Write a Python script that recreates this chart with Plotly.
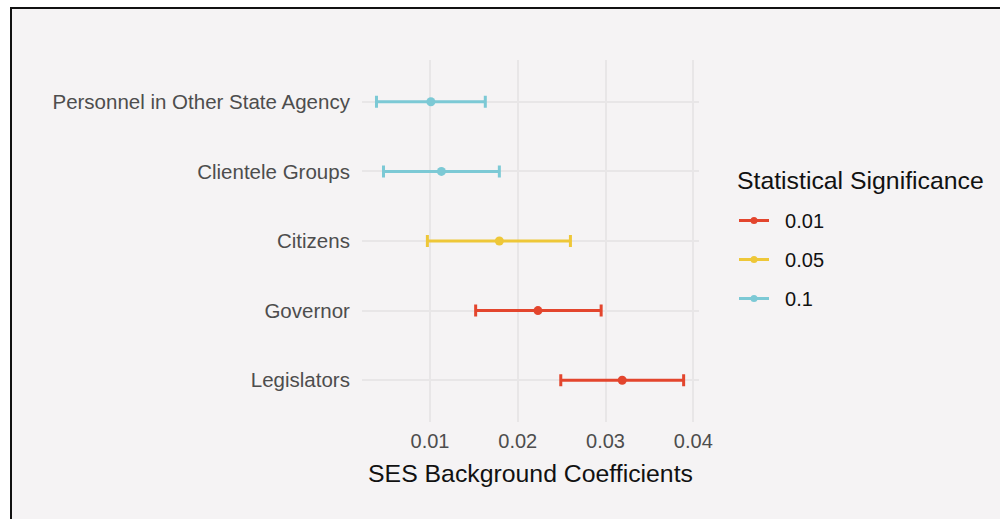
import plotly.graph_objects as go

# ---- data ----
categories = ["Personnel in Other State Agency", "Clientele Groups", "Citizens", "Governor", "Legislators"]
coefficients = [0.0101, 0.0113, 0.0179, 0.0223, 0.0319]
ci_lower = [0.0039, 0.0047, 0.0097, 0.0152, 0.0249]
ci_upper = [0.0163, 0.0179, 0.0260, 0.0295, 0.0389]
significance = ["0.1", "0.1", "0.05", "0.01", "0.01"]
sig_levels = ["0.01", "0.05", "0.1"]
sig_colors = {"0.01": "#E3452D", "0.05": "#EEC738", "0.1": "#7CC9D5"}
x_ticks = [0.01, 0.02, 0.03, 0.04]
legend_title = "Statistical Significance"
x_title = "SES Background Coefficients"

# ---- layout geometry (pixels) ----
W, H = 1000, 519
L, R, T, B = 362, 301, 60, 97
pw, ph = W - L - R, H - T - B

def px_x(p):
    return (p - L) / pw

def px_y(p):
    return 1 - (p - T) / ph

FONT = "Liberation Sans, Arial, sans-serif"
NBSP = "\u00a0"

fig = go.Figure()

for lvl in sig_levels:
    idx = [i for i, s in enumerate(significance) if s == lvl]
    xs = [coefficients[i] for i in idx]
    ys = [categories[i] for i in idx]
    plus = [ci_upper[i] - coefficients[i] for i in idx]
    minus = [coefficients[i] - ci_lower[i] for i in idx]
    col = sig_colors[lvl]
    fig.add_trace(go.Scatter(
        x=xs, y=ys, mode="markers",
        marker=dict(color=col, size=9),
        error_x=dict(type="data", symmetric=False, array=plus, arrayminus=minus,
                     color=col, thickness=3, width=6),
        showlegend=False, hoverinfo="x+y",
    ))
    # legend entry
    fig.add_trace(go.Scatter(
        x=[None], y=[None], mode="lines+markers", name=NBSP * 2 + lvl,
        line=dict(color=col, width=3), marker=dict(color=col, size=7),
        legendgroup=lvl, showlegend=True,
    ))

# background panel with black top/left border
fig.add_shape(type="rect", xref="paper", yref="paper",
              x0=px_x(11), x1=px_x(1020), y0=px_y(540), y1=px_y(8),
              fillcolor="#F5F3F4", line=dict(color="#111111", width=2), layer="below")

# legend title
fig.add_annotation(text=legend_title, xref="paper", yref="paper",
                   x=px_x(735), y=px_y(180), xanchor="left", yanchor="middle",
                   showarrow=False, font=dict(size=24.8, color="#111111", family=FONT))

fig.update_layout(
    width=W, height=H,
    margin=dict(l=L, r=R, t=T, b=B, pad=0),
    paper_bgcolor="white",
    plot_bgcolor="rgba(0,0,0,0)",
    font=dict(family=FONT, color="#4D4D4D", size=20),
    xaxis=dict(
        range=[0.00225, 0.04065],
        tickvals=x_ticks,
        ticktext=[f"{v:.2f}" for v in x_ticks],
        showgrid=True, gridcolor="#E8E6E7", gridwidth=1.5,
        zeroline=False, showline=False,
        ticks="outside", ticklen=1, tickcolor="rgba(0,0,0,0)",
        tickfont=dict(size=20, color="#4D4D4D"),
        title=dict(text=x_title, font=dict(size=24.8, color="#111111"), standoff=13),
    ),
    yaxis=dict(
        type="category",
        categoryorder="array",
        categoryarray=categories[::-1],
        range=[-0.6, 4.6],
        showgrid=True, gridcolor="#E8E6E7", gridwidth=1.5,
        zeroline=False, showline=False,
        ticks="outside", ticklen=7, tickcolor="rgba(0,0,0,0)",
        tickfont=dict(size=20.5, color="#4D4D4D"),
    ),
    legend=dict(
        x=px_x(734), y=px_y(201), xanchor="left", yanchor="top",
        font=dict(size=20, color="#111111"),
        bgcolor="rgba(0,0,0,0)",
        tracegroupgap=10,
        itemwidth=30,
    ),
)

fig.write_html("out.html")
